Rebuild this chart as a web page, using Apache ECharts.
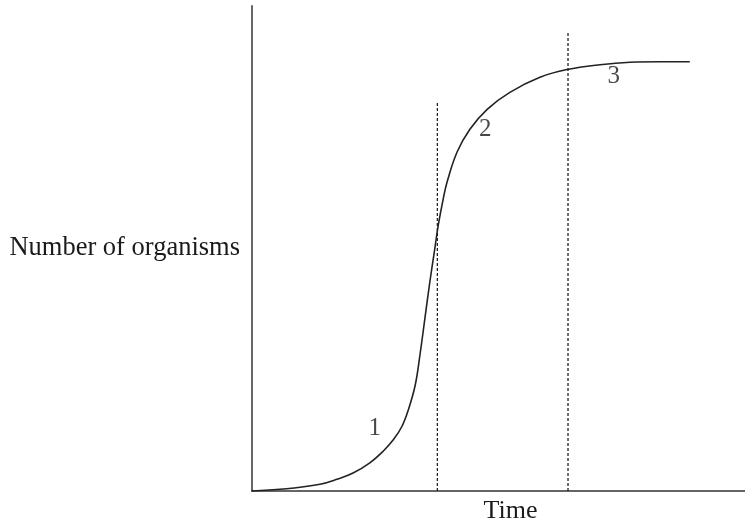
<!DOCTYPE html>
<html>
<head>
<meta charset="utf-8">
<script src="https://cdn.jsdelivr.net/npm/echarts@6/dist/echarts.min.js"></script>
<style>html,body{margin:0;padding:0;background:#fff}#c{width:745px;height:529px}</style>
</head>
<body>
<div id="c"></div>
<script>
// Growth curve (time, number of organisms)
const curveTime = [0, 6.3, 13.8, 17.2, 20.5, 23.9, 26.6, 28.7, 30.4, 31.7, 33.1, 34.1, 35.1, 36.1, 37.0, 37.8, 38.8, 39.6, 41.6, 44.2, 47.7, 52.3, 58.4, 63.9, 70.6, 76.7, 82.8, 88.8];
const curveCount = [0, 0.4, 1.4, 2.4, 3.7, 5.8, 8.2, 10.6, 13.3, 16.7, 21.8, 28.3, 35.8, 43.3, 49.4, 54.9, 60.3, 63.8, 69.9, 74.6, 78.7, 82.2, 85.3, 86.9, 87.9, 88.4, 88.5, 88.5];
// Dashed phase boundaries
const boundaryTime = [37.6, 64.1];
const boundaryTop = [80.4, 94.5];
// Phase labels
const phaseNames = ['1', '2', '3'];
const phaseTime = [24.9, 47.3, 73.4];
const phaseCount = [12.9, 74.6, 85.5];
const xAxisName = 'Time';
const yAxisName = 'Number of organisms';

const font = 'Liberation Serif';
const series = [{
  type: 'line',
  data: curveTime.map((t, i) => [t, curveCount[i]]),
  smooth: 0.4,
  showSymbol: false,
  lineStyle: { color: '#222', width: 1.6 },
  z: 3
}];
boundaryTime.forEach((t, i) => {
  series.push({
    type: 'line',
    data: [[t, 0], [t, boundaryTop[i]]],
    showSymbol: false,
    lineStyle: { color: '#222', width: 1.3, type: [3, 2] },
    z: 2
  });
});
series.push({
  type: 'scatter',
  data: phaseTime.map((t, i) => [t, phaseCount[i], phaseNames[i]]),
  symbolSize: 0,
  label: {
    show: true, position: 'inside',
    formatter: p => p.data[2],
    fontFamily: font, fontSize: 25, color: '#1a1a1a'
  }
});

const chart = echarts.init(document.getElementById('c'));
chart.setOption({
  animation: false,
  grid: { left: 252, right: 0, top: 6, bottom: 34 },
  xAxis: {
    type: 'value', min: 0, max: 100,
    name: xAxisName, nameLocation: 'middle', nameGap: 20,
    nameTextStyle: { fontFamily: font, fontSize: 26, color: '#1a1a1a', verticalAlign: 'middle', padding: [0, 0, 0, 24] },
    axisLine: { show: true, lineStyle: { color: '#333', width: 1.6 } },
    axisTick: { show: false }, axisLabel: { show: false }, splitLine: { show: false }
  },
  yAxis: {
    type: 'value', min: 0, max: 100,
    name: yAxisName, nameLocation: 'middle', nameRotate: 0, nameGap: 12,
    nameTextStyle: { fontFamily: font, fontSize: 26.5, color: '#1a1a1a', align: 'right', verticalAlign: 'middle' },
    axisLine: { show: true, lineStyle: { color: '#666', width: 2 } },
    axisTick: { show: false }, axisLabel: { show: false }, splitLine: { show: false }
  },
  series: series
});
</script>
</body>
</html>
